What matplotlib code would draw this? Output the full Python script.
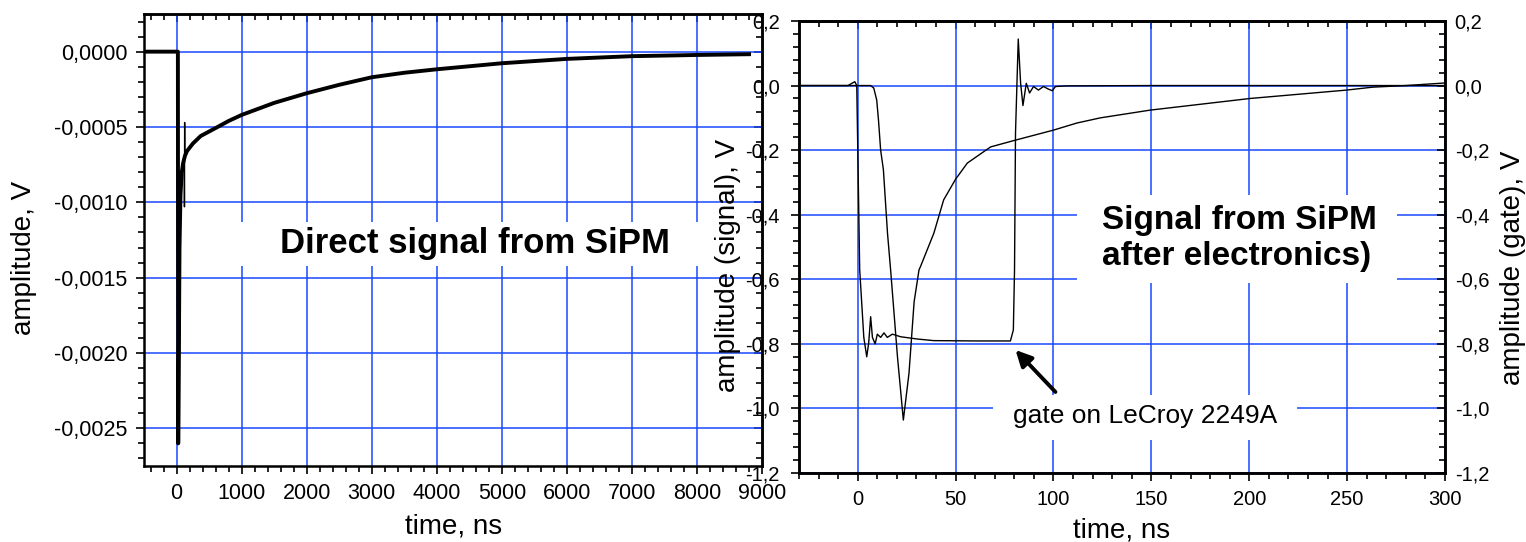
import matplotlib.pyplot as plt
from matplotlib.ticker import MultipleLocator, AutoMinorLocator, FuncFormatter
from matplotlib.patches import Rectangle

plt.rcParams['font.family'] = ['Liberation Sans', 'DejaVu Sans']

# direct SiPM signal (left panel), time in ns, amplitude in V
direct_t = [-500, -300, -100, 0, 20, 25, 35, 45, 60, 80, 100, 118, 130, 160, 250, 370,
            500, 630, 800, 1000, 1250, 1500, 2000, 2500, 3000, 3500, 4000, 5000, 6000,
            7000, 8000, 8800]
direct_v = [0, 0, 0, 0, 0, -0.0026, -0.0020, -0.0013, -0.00095, -0.00080, -0.00074,
            -0.00071, -0.00069, -0.00066, -0.00061, -0.00056, -0.00053, -0.00050,
            -0.00046, -0.00042, -0.00038, -0.00034, -0.000276, -0.00022, -0.00017,
            -0.00014, -0.000117, -0.000077, -0.000048, -0.00003, -0.000022, -0.000017]
# short pickup spike on the direct trace
spike_t = [118, 121, 124, 127, 130]
spike_v = [-0.00071, -0.00103, -0.00047, -0.00070, -0.00069]

# shaped signal after electronics (right panel)
signal_t = [-30, 0, 6.6, 8.2, 9.7, 10.6, 11.7, 13.1, 15.2, 16.8, 20.3, 23.3, 26.2, 28.8,
            31.3, 32.1, 38.9, 43.9, 50, 56, 67.9, 80.6, 100, 112, 124, 149.5, 200.5,
            249.8, 263, 280, 300]
signal_v = [0, 0, 0, -0.008, -0.045, -0.107, -0.2, -0.26, -0.457, -0.571, -0.84, -1.036,
            -0.89, -0.67, -0.571, -0.56, -0.457, -0.354, -0.29, -0.24, -0.19, -0.169,
            -0.138, -0.116, -0.1, -0.076, -0.04, -0.014, -0.005, 0.0, 0.008]

# gate pulse (right panel)
gate_t = [-30, -5, -1.5, -0.5, 1.0, 3.1, 4.6, 5.6, 6.6, 7.5, 8.9, 10, 11.7, 13.4, 15.1,
          17.7, 21.9, 30.4, 38.8, 60, 78, 79.5, 80.1, 80.6, 82, 83.2, 84.4, 86.1, 87.8,
          89.8, 92.3, 94.9, 97.4, 99.4, 101, 107, 150, 200, 250, 300]
gate_v = [0, 0, 0.012, 0, -0.57, -0.78, -0.84, -0.797, -0.716, -0.78, -0.80, -0.77,
          -0.78, -0.766, -0.78, -0.77, -0.778, -0.785, -0.79, -0.791, -0.791, -0.757,
          -0.57, -0.147, 0.144, 0.008, -0.062, 0.007, -0.023, -0.003, -0.014, -0.003,
          -0.011, -0.016, -0.003, -0.001, 0, 0, 0, 0]

BLUE = '#1a48ff'


def comma(decimals):
    def fmt(v, pos):
        s = f"{v:.{decimals}f}"
        if float(s) == 0:
            s = s.lstrip('-')
        return s.replace('.', ',')
    return FuncFormatter(fmt)


def setup(ax, xmaj, ymaj, ydec, fs):
    ax.xaxis.set_major_locator(MultipleLocator(xmaj))
    ax.xaxis.set_minor_locator(AutoMinorLocator(5))
    ax.yaxis.set_major_locator(MultipleLocator(ymaj))
    ax.yaxis.set_minor_locator(AutoMinorLocator(5))
    ax.yaxis.set_major_formatter(comma(ydec))
    ax.tick_params(which='both', direction='out', width=1.2, labelsize=fs, pad=6)
    ax.tick_params(which='major', length=6)
    ax.tick_params(which='minor', length=4)
    for s in ax.spines.values():
        s.set_linewidth(1.8)
    ax.grid(True, which='major', color=BLUE, lw=1.1)
    ax.set_axisbelow(True)
    # mirror ticks on top, pointing in
    top = ax.secondary_xaxis('top')
    top.xaxis.set_major_locator(MultipleLocator(xmaj))
    top.xaxis.set_minor_locator(AutoMinorLocator(5))
    top.tick_params(which='both', direction='in', labeltop=False, width=1.2)
    top.tick_params(which='major', length=6)
    top.tick_params(which='minor', length=4)
    top.spines['top'].set_linewidth(1.8)


fig = plt.figure(figsize=(15.26, 5.42), dpi=100)

# ---- left panel
ax1 = fig.add_axes([0.0944, 0.1402, 0.405, 0.834])
setup(ax1, 1000, 0.0005, 4, 15.5)
ax1.set_xlim(-500, 9000)
ax1.set_ylim(-0.00275, 0.00025)
ax1.plot(direct_t, direct_v, color='black', lw=2.8, zorder=2)
ax1.plot(spike_t, spike_v, color='black', lw=1.0, zorder=2)
right = ax1.secondary_yaxis('right')
right.yaxis.set_major_locator(MultipleLocator(0.0005))
right.yaxis.set_minor_locator(AutoMinorLocator(5))
right.tick_params(which='both', direction='in', labelright=False, width=1.2)
right.tick_params(which='major', length=6)
right.tick_params(which='minor', length=4)
right.spines['right'].set_linewidth(1.8)
ax1.set_xlabel('time, ns', fontsize=20)
ax1.xaxis.set_label_coords(0.5, -0.105)
ax1.set_ylabel('amplitude, V', fontsize=20)
ax1.yaxis.set_label_coords(-0.173, 0.46)
ax1.add_patch(Rectangle((0.099, 0.442), 0.865, 0.098, transform=ax1.transAxes,
                        facecolor='white', edgecolor='none', zorder=1))
ax1.text(0.536, 0.493, 'Direct signal from SiPM', transform=ax1.transAxes,
         fontsize=25, fontweight='bold', ha='center', va='center', zorder=3)

# ---- right panel
ax2 = fig.add_axes([0.5236, 0.1273, 0.4233, 0.834])
setup(ax2, 50, 0.2, 1, 14.5)
ax2.set_xlim(-30, 300)
ax2.set_ylim(-1.2, 0.2)
ax2.tick_params(axis='y', pad=8)
ax2.plot(signal_t, signal_v, color='black', lw=1.0, zorder=2)
ax2.plot(gate_t, gate_v, color='black', lw=1.0, zorder=2)
ax2.set_xlabel('time, ns', fontsize=20)
ax2.xaxis.set_label_coords(0.5, -0.098)
ax2.set_ylabel('amplitude (signal), V', fontsize=20)
ax2.yaxis.set_label_coords(-0.090, 0.46)

tw = ax2.twinx()
tw.set_ylim(-1.2, 0.2)
tw.yaxis.set_major_locator(MultipleLocator(0.2))
tw.yaxis.set_minor_locator(AutoMinorLocator(5))
tw.yaxis.set_major_formatter(comma(1))
tw.tick_params(which='both', direction='in', labelsize=14.5, width=1.2, pad=7)
tw.tick_params(which='major', length=6)
tw.tick_params(which='minor', length=4)
for s in tw.spines.values():
    s.set_linewidth(1.8)
tw.set_ylabel('amplitude (gate), V', fontsize=20)
tw.yaxis.set_label_coords(1.085, 0.453)

ax2.add_patch(Rectangle((0.430, 0.420), 0.496, 0.195, transform=ax2.transAxes,
                        facecolor='white', edgecolor='none', zorder=1))
ax2.add_patch(Rectangle((0.300, 0.073), 0.471, 0.100, transform=ax2.transAxes,
                        facecolor='white', edgecolor='none', zorder=1))
ax2.text(0.469, 0.518, 'Signal from SiPM\nafter electronics)', transform=ax2.transAxes,
         fontsize=24, fontweight='bold', ha='left', va='center', zorder=3)
ax2.text(0.536, 0.126, 'gate on LeCroy 2249A', transform=ax2.transAxes,
         fontsize=19, ha='center', va='center', zorder=3)
ax2.annotate('', xy=(80.6, -0.819), xytext=(101, -0.949),
             arrowprops=dict(arrowstyle='-|>', color='black', lw=2.8,
                             mutation_scale=24, shrinkA=0, shrinkB=0), zorder=4)

fig.savefig('out.png', dpi=100)
